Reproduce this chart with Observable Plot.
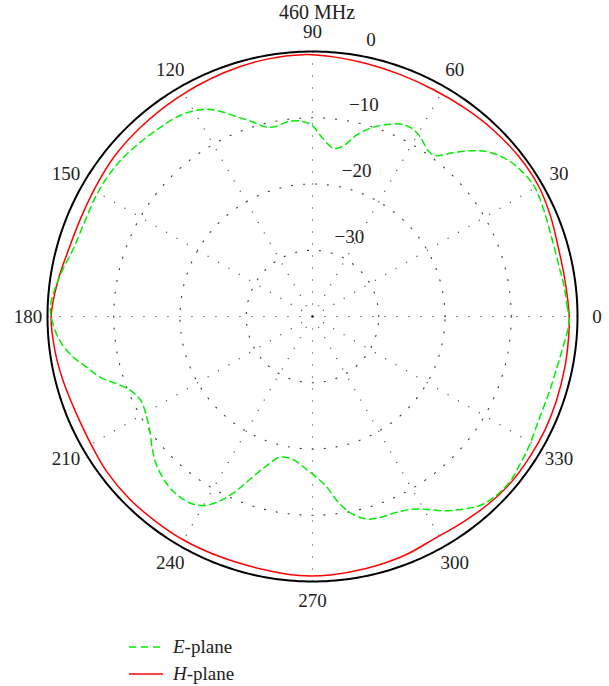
<!DOCTYPE html>
<html><head><meta charset="utf-8">
<script src="https://cdn.jsdelivr.net/npm/d3@7"></script>
<script src="https://cdn.jsdelivr.net/npm/@observablehq/plot@0.6"></script>
<style>
body{margin:0;background:#fff;font-family:"Liberation Serif",serif;color:#222}
#wrap{position:relative;width:609px;height:620px}
#title{position:absolute;top:0px;left:0;width:609px;padding-left:25px;box-sizing:border-box;text-align:center;font-size:20px;line-height:24px;z-index:2}
#legend{margin-left:129px;margin-top:13px;font-size:19px}
.row{display:flex;align-items:center;height:27px}
.row svg{margin-right:10px}
</style></head><body>
<div id="wrap"><div id="title">460 MHz</div><div id="chart"></div></div>
<div id="legend"></div>
<script>
// ---- data (angle in degrees, gain in dB) ----
const eAngle = [0,2,7,11,18,23,28,31,35.5,39,43,46,49.5,52.5,55,59,62,65,68,72.5,76.5,80,83,87,90,93,97,101,104,107,111,114.5,118,123,129,135,141,146,151,158,164,169,173.5,178,181,185,189,192,196,199,202,206,210,215,220,224,229,233,237,240,242.5,245,247.5,250,253.5,257,262,266,270,274.5,278,281.5,285,288.5,293,297.5,301,304.5,308,311.5,315.5,320,324,329,335.5,342,348.5,354,358];
const eDb = [-1.25,-1.5,-1.75,-2.0,-2.0,-1.7,-1.3,-1.2,-1.65,-2.3,-3.6,-5.2,-7.5,-9.4,-9.5,-8.4,-7.9,-8.0,-8.7,-10.1,-11.9,-13.95,-14.4,-12.9,-11.2,-10.5,-10.35,-10.8,-10.5,-9.3,-7.65,-5.9,-4.6,-3.7,-3.35,-3.0,-2.65,-2.55,-2.6,-2.75,-2.5,-1.7,-0.95,-0.4,-0.7,-1.55,-3.05,-4.7,-6.7,-8.75,-10.3,-11.15,-10.9,-10.0,-8.5,-7.4,-6.5,-6.2,-6.35,-7.05,-8.3,-10.1,-12.3,-14.5,-16.75,-18.2,-18.25,-17.4,-16.2,-14.35,-11.6,-9.55,-8.35,-8.0,-7.85,-7.2,-6.0,-4.4,-3.1,-1.9,-1.3,-1.15,-1.5,-1.9,-2.45,-2.5,-2.3,-1.8,-1.3];
const hAngle = [0,8,16,23,30,38,46,54,62,70,78,85,92,100,110,122,132,141,149,157,165,172,180,188,195,202,210,217,225,233,240,249,259,267,274,282,291,299,306,313,320,327,334,341,349,355];
const hDb = [-1.25,-1.5,-1.45,-1.0,-0.6,-0.6,-0.8,-1.05,-1.2,-1.15,-0.95,-0.7,-0.45,-0.55,-0.85,-1.2,-1.4,-1.55,-1.85,-2.0,-1.8,-1.2,-0.55,-0.8,-1.15,-1.45,-1.4,-1.1,-1.0,-1.05,-1.05,-1.15,-1.1,-0.85,-0.9,-1.1,-1.35,-1.75,-1.55,-1.2,-0.95,-0.95,-0.95,-1.05,-1.15,-1.22];
const angleTicks = [0,30,60,90,120,150,180,210,240,270,300,330];
const radialTicks = [0,-10,-20,-30];
const rMinDb = -40;
const title = "460 MHz";
const seriesNames = ["E-plane","H-plane"];

// ---- layout ----
const W = 609, H = 620, CX = 312, CY = 316, R = 265;
const rad = db => (db - rMinDb) / (0 - rMinDb);
const toRad = a => a * Math.PI / 180;
const pt = (a, r, extra) => ({x: r * Math.cos(toRad(a)), y: r * Math.sin(toRad(a)), ...extra});

const ePts = eAngle.map((a, i) => pt(a, rad(eDb[i])));
const hPts = hAngle.map((a, i) => pt(a, rad(hDb[i])));
const ringAngles = d3.range(0, 361, 1);
const gridRings = radialTicks.filter(d => d !== 0).flatMap(db => ringAngles.map(a => pt(a, rad(db), {db})));
const outerRing = ringAngles.map(a => pt(a, 1));
const labelR = 284.5 / R;
const radialLabelAngle = 83.7;

const chart = Plot.plot({
  width: W, height: H, margin: 0,
  x: {domain: [-CX / R, (W - CX) / R], axis: null},
  y: {domain: [-(H - CY) / R, CY / R], axis: null},
  style: {fontFamily: "'Liberation Serif', serif", background: "white", color: "#222"},
  marks: [
    Plot.line(gridRings, {x: "x", y: "y", z: "db", stroke: "#333", strokeWidth: 1.1, strokeDasharray: "1.1,10.9"}),
    Plot.link(angleTicks, {x1: 0, y1: 0, x2: a => Math.cos(toRad(a)), y2: a => Math.sin(toRad(a)), stroke: "#333", strokeWidth: 1.1, strokeDasharray: "1.1,10.9"}),
    Plot.line(outerRing, {x: "x", y: "y", stroke: "black", strokeWidth: 2}),
    Plot.line(hPts, {x: "x", y: "y", stroke: "#ff0000", strokeWidth: 1.5, curve: "catmull-rom-closed"}),
    Plot.line(ePts, {x: "x", y: "y", stroke: "#00ee00", strokeWidth: 1.5, strokeDasharray: "6.5,4.5", curve: "catmull-rom-closed"}),
    Plot.text(angleTicks, {x: a => labelR * Math.cos(toRad(a)), y: a => labelR * Math.sin(toRad(a)), text: a => String(a), fontSize: 19, fill: "#222"}),
    Plot.text(radialTicks, {
      x: d => rad(d) * Math.cos(toRad(radialLabelAngle)),
      y: d => rad(d) * Math.sin(toRad(radialLabelAngle)),
      text: d => d === 0 ? "0" : "\u2212" + Math.abs(d),
      dx: 29.5, dy: -13.6, fontSize: 19, fill: "#222"
    })
  ]
});
document.getElementById("chart").appendChild(chart);
document.getElementById("title").textContent = title;

const legend = document.getElementById("legend");
const styles = [
  {stroke: "#00ee00", dash: "7,5"},
  {stroke: "#ff0000", dash: null}
];
seriesNames.forEach((name, i) => {
  const row = document.createElement("div");
  row.className = "row";
  const s = styles[i];
  row.innerHTML = `<svg width="34" height="10"><line x1="0" y1="5" x2="34" y2="5" stroke="${s.stroke}" stroke-width="1.5" ${s.dash ? `stroke-dasharray="${s.dash}"` : ""}/></svg>` +
    `<span><i>${name.split("-")[0]}</i>-${name.split("-")[1]}</span>`;
  legend.appendChild(row);
});
</script>
</body></html>
